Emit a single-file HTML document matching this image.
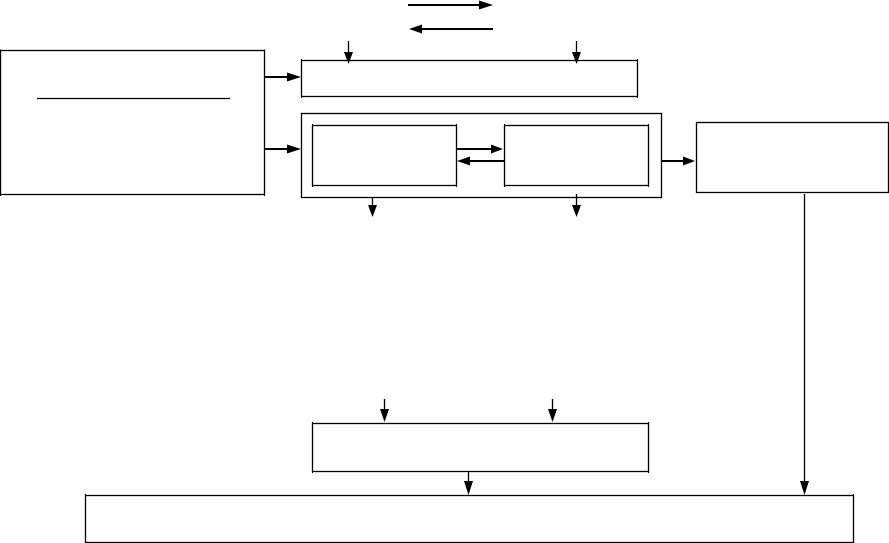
<!DOCTYPE html>
<html>
<head>
<meta charset="utf-8">
<style>
html,body{margin:0;padding:0;background:#fff;width:889px;height:543px;overflow:hidden}
svg{display:block}
</style>
</head>
<body>
<svg width="889" height="543" viewBox="0 0 889 543" xmlns="http://www.w3.org/2000/svg">
<g fill="none" stroke="#000" stroke-width="1.3">
<rect x="0.5" y="50.5" width="264" height="144"/>
<rect x="301.5" y="60.5" width="336" height="36"/>
<rect x="301.5" y="113.5" width="360" height="84"/>
<rect x="312.5" y="125.5" width="144" height="60"/>
<rect x="504.5" y="125.5" width="144" height="60"/>
<rect x="696.5" y="122.5" width="192" height="70"/>
<rect x="312.5" y="423.5" width="336" height="48"/>
<rect x="85.5" y="495.5" width="768" height="47"/>
<path d="M37 98.5H230"/>
<path d="M348.5 41V54M576.5 41V54"/>
<path d="M372.5 197V207M576.5 194V207"/>
<path d="M384.5 399V411M552.5 399V411"/>
<path d="M468.5 471V483"/>
<path d="M804.5 194V483"/>
</g>
<g fill="none" stroke="#000" stroke-width="1">
<path d="M0.5 49.5V196M264.5 49.5V196"/>
<path d="M301.5 59V98M637.5 59V98"/>
<path d="M312.5 124V187M456.5 124V187M504.5 124V187M648.5 124V187"/>
<path d="M312.5 422V473M648.5 422V473"/>
<path d="M85.5 494V543M853.5 494V543"/>
</g>
<g fill="none" stroke="#000" stroke-width="2">
<path d="M408 5H481"/>
<path d="M420 29H493"/>
<path d="M264 77H289"/>
<path d="M264 149H289"/>
<path d="M456 149H493"/>
<path d="M468 161H504"/>
<path d="M661 161H685"/>
</g>
<g fill="#000">
<path d="M493 5L479 0.5V9.5Z"/>
<path d="M409 29L422 24.5V33.5Z"/>
<path d="M301 77L287 72.5V81.5Z"/>
<path d="M301 149L287 144.5V153.5Z"/>
<path d="M503 149L491 144.5V153.5Z"/>
<path d="M457 161L470 156.5V165.5Z"/>
<path d="M695 161L683 156.5V165.5Z"/>
<path d="M348.5 64L344 52H353Z"/>
<path d="M576.5 64L572 52H581Z"/>
<path d="M372.5 217L368 205H377Z"/>
<path d="M576.5 217L572 205H581Z"/>
<path d="M384.5 422L380 409H389Z"/>
<path d="M552.5 422L548 409H557Z"/>
<path d="M468.5 495L464 481H473Z"/>
<path d="M804.5 495L800 481H809Z"/>
</g>
</svg>
</body>
</html>
